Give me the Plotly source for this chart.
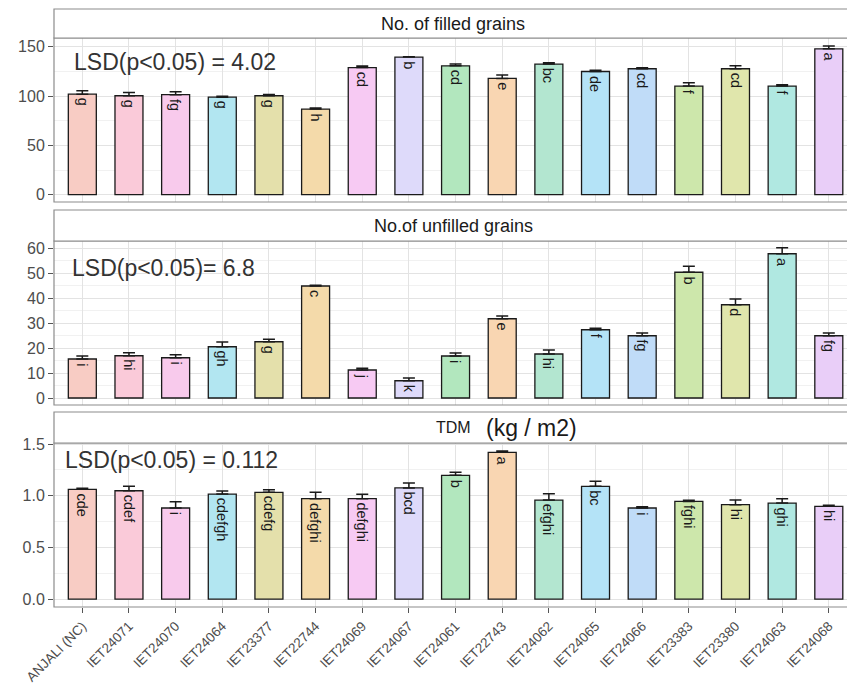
import plotly.graph_objects as go
from plotly.subplots import make_subplots

genotypes = ["ANJALI (NC)", "IET24071", "IET24070", "IET24064", "IET23377", "IET22744",
             "IET24069", "IET24067", "IET24061", "IET22743", "IET24062", "IET24065",
             "IET24066", "IET23383", "IET23380", "IET24063", "IET24068"]

bar_colors = ["#F8CCC4", "#FACAD9", "#F8CAEC", "#B2E6F1", "#E4E0AB", "#F4DAAA",
              "#F7CAF3", "#DEDAFA", "#B2E7BE", "#F9D6B2", "#B3E6D0", "#B4E3F7",
              "#C0DCF8", "#CDE7AB", "#E0E6AC", "#B0E8E1", "#E9CEF8"]

filled = [102, 100.4, 101.5, 99, 100.4, 86.9, 129, 139.6, 130.8, 118, 132.5, 125,
          127.8, 110.2, 127.8, 110.2, 148]
filled_se = [3.5, 3.4, 3.0, 1.0, 1.3, 1.1, 1.5, 0.5, 1.7, 3.4, 1.4, 1.2, 1.0, 3.4, 3.0, 1.4, 3.0]
filled_letters = ["g", "g", "fg", "g", "g", "h", "cd", "b", "cd", "e", "bc", "de", "cd",
                  "f", "cd", "f", "a"]

unfilled = [15.6, 16.9, 16.1, 20.5, 22.5, 44.8, 11.2, 6.9, 16.8, 31.7, 17.6, 27.3, 24.9,
            50.3, 37.3, 57.7, 24.9]
unfilled_se = [1.2, 1.2, 1.2, 1.9, 1.0, 0.3, 0.7, 1.1, 1.2, 1.1, 1.6, 0.6, 1.1, 2.4, 2.3, 2.4, 1.1]
unfilled_letters = ["i", "hi", "i", "gh", "g", "c", "j", "k", "i", "e", "hi", "f", "fg",
                    "b", "d", "a", "fg"]

tdm = [1.062, 1.048, 0.881, 1.016, 1.033, 0.971, 0.971, 1.075, 1.197, 1.420, 0.958, 1.091,
       0.881, 0.945, 0.913, 0.929, 0.897]
tdm_se = [0.01, 0.043, 0.06, 0.029, 0.025, 0.062, 0.042, 0.048, 0.029, 0.013, 0.062, 0.048,
          0.013, 0.01, 0.045, 0.042, 0.01]
tdm_letters = ["cde", "cdef", "i", "cdefgh", "cdefg", "defghi", "defghi", "bcd", "b", "a",
               "efghi", "bc", "i", "fghi", "hi", "ghi", "hi"]

strip_titles = ["No. of filled grains", "No.of unfilled grains", "TDM"]
lsd_texts = ["LSD(p<0.05) = 4.02", "LSD(p<0.05)= 6.8", "LSD(p<0.05) = 0.112"]

W, H = 847, 686
FONT = "Liberation Sans, Arial, sans-serif"


def py(p):
    return 1 - p / H


x0 = 54 / W
# (plot top px, plot bottom px, strip top px)
panels = [(38, 202, 9), (241, 405, 210), (443, 607, 412)]
yranges = [[-7.4, 159], [-2.8, 62.8], [-0.077, 1.51]]
ydticks = [50, 10, 0.5]
yminor = [25, 5, 0.25]

fig = make_subplots(rows=3, cols=1, shared_xaxes=True)

series = [(filled, filled_se, filled_letters),
          (unfilled, unfilled_se, unfilled_letters),
          (tdm, tdm_se, tdm_letters)]

for i, (vals, se, letters) in enumerate(series):
    r = i + 1
    fig.add_trace(go.Bar(
        x=genotypes, y=vals, width=0.6,
        marker=dict(color=bar_colors, line=dict(color="#1a1a1a", width=1.3)),
        error_y=dict(type="data", array=se, arrayminus=[0] * len(se), symmetric=False,
                     color="#1a1a1a", thickness=1.5, width=6),
        showlegend=False), row=r, col=1)
    xref = "x" if r == 1 else f"x{r}"
    yref = "y" if r == 1 else f"y{r}"
    for g, v, e, lab in zip(genotypes, vals, se, letters):
        fig.add_annotation(x=g, y=v, xref=xref, yref=yref, text=lab, showarrow=False,
                           textangle=90, xanchor="center", yanchor="top", yshift=-2,
                           font=dict(family=FONT, size=14.5, color="#1a1a1a"))

# axes
for i in range(3):
    r = i + 1
    top, bot, stop = panels[i]
    xa = "xaxis" if r == 1 else f"xaxis{r}"
    ya = "yaxis" if r == 1 else f"yaxis{r}"
    fig.layout[ya].update(
        domain=[py(bot), py(top)], range=yranges[i], dtick=ydticks[i], tick0=0,
        showgrid=True, gridcolor="#e3e3e3", gridwidth=1, zeroline=False,
        ticks="outside", ticklen=5, tickcolor="#555555", tickwidth=1,
        tickfont=dict(family=FONT, size=16, color="#4d4d4d"),
        showline=False, automargin=False,
        minor=dict(dtick=yminor[i], tick0=0, showgrid=True, gridcolor="#f1f1f1", gridwidth=0.6),
        tickformat=".1f" if r == 3 else "d")
    fig.layout[xa].update(
        domain=[x0, 1], range=[-0.607, 16.39], showgrid=True, gridcolor="#e3e3e3",
        gridwidth=1, zeroline=False, automargin=False, showline=False,
        ticks="outside" if r == 3 else "", ticklen=5, tickcolor="#555555",
        showticklabels=(r == 3), tickangle=-45,
        tickfont=dict(family=FONT, size=13.5, color="#4d4d4d"))

    # panel border
    fig.add_shape(type="rect", xref="paper", yref="paper", x0=x0, x1=1.02,
                  y0=py(bot), y1=py(top), line=dict(color="#8c8c8c", width=1.2),
                  fillcolor="rgba(0,0,0,0)", layer="above")
    # strip
    fig.add_shape(type="rect", xref="paper", yref="paper", x0=x0, x1=1.02,
                  y0=py(top), y1=py(stop), line=dict(color="#8c8c8c", width=1.2),
                  fillcolor="white", layer="above")
    fig.add_annotation(xref="paper", yref="paper", x=453.5 / W, y=py((top + stop) / 2),
                       text=strip_titles[i], showarrow=False, xanchor="center", yanchor="middle",
                       font=dict(family=FONT, size=18 if r < 3 else 16, color="#1a1a1a"))

# (kg / m2) overlay text
fig.add_annotation(xref="paper", yref="paper", x=484 / W, y=py(428), text="(kg / m2)",
                   showarrow=False, xanchor="left", yanchor="middle",
                   font=dict(family=FONT, size=23, color="#1a1a1a"))

# LSD annotations
lsd_pos = [(72, 62), (70, 268), (63, 460)]
for i, (lx, ly) in enumerate(lsd_pos):
    fig.add_annotation(xref="paper", yref="paper", x=lx / W, y=py(ly), text=lsd_texts[i],
                       showarrow=False, xanchor="left", yanchor="middle",
                       font=dict(family=FONT, size=23, color="#333333"))

fig.update_layout(width=W, height=H, margin=dict(l=0, r=0, t=0, b=0),
                  paper_bgcolor="white", plot_bgcolor="white", bargap=0.4,
                  font=dict(family=FONT))

fig.write_html("out.html")
